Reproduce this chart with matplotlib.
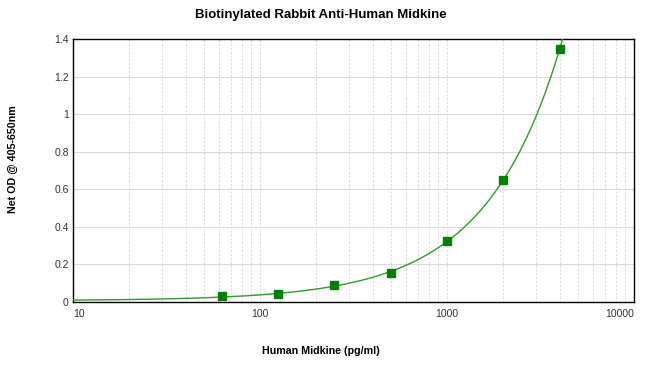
import numpy as np
import matplotlib
matplotlib.use("Agg")
import matplotlib.pyplot as plt
from matplotlib.ticker import FixedLocator, NullFormatter

conc = [62.5, 125, 250, 500, 1000, 2000, 4000]
od = [0.030, 0.041, 0.089, 0.156, 0.325, 0.649, 1.345]
title = "Biotinylated Rabbit Anti-Human Midkine"
xlabel = "Human Midkine (pg/ml)"
ylabel = "Net OD @ 405-650nm"
xticks = [10, 100, 1000, 10000]
yticks = [0, 0.2, 0.4, 0.6, 0.8, 1.0, 1.2, 1.4]

plt.rcParams['font.family'] = ['Liberation Sans', 'DejaVu Sans']

fig = plt.figure(figsize=(6.5, 3.78), dpi=100)
ax = fig.add_axes([73/650, 1-302/378, (634-73)/650, (302-39)/378])

# fitted curve (quadratic in concentration) from the data
coef = np.polyfit(conc, od, 2)
xs = np.logspace(1, np.log10(4400), 400)
ax.plot(xs, np.polyval(coef, xs), color="#2f9a2f", lw=1.0, zorder=3)
ax.plot(conc, od, ls="none", marker="s", ms=5.5, color="#008000", zorder=4)

ax.set_xscale("log")
ax.set_xlim(10, 10000)
ax.set_ylim(0, 1.4)
ax.set_xticks(xticks)
ax.set_xticklabels([str(t) for t in xticks])
minors = [m * 10**e for e in range(1, 4) for m in range(2, 10)]
ax.xaxis.set_minor_locator(FixedLocator(minors))
ax.xaxis.set_minor_formatter(NullFormatter())
ax.set_yticks(yticks)
ax.set_yticklabels(["%g" % t for t in yticks])
ax.tick_params(axis="both", which="both", length=0, labelsize=7.5, colors="#333333", pad=3)
ax.tick_params(axis="x", pad=5)
xl = ax.get_xticklabels()
xl[0].set_horizontalalignment("left")
xl[-1].set_horizontalalignment("right")

ax.grid(True, axis="x", which="both", color="#d8d8d8", ls=(0, (2, 2)), lw=0.7)
ax.grid(True, axis="y", which="major", color="#d8d8d8", ls="-", lw=0.7)
ax.set_axisbelow(True)
for s in ax.spines.values():
    s.set_color("black")
    s.set_linewidth(1.0)

fig.text(321/650, 1-15/378, title, ha="center", va="center", fontsize=9.5, fontweight="bold")
fig.text(321/650, 1-351/378, xlabel, ha="center", va="center", fontsize=7.7, fontweight="bold")
fig.text(13/650, 1-159/378, ylabel, ha="center", va="center", rotation=90, fontsize=7.7, fontweight="bold")

fig.savefig("out.png", dpi=100)
